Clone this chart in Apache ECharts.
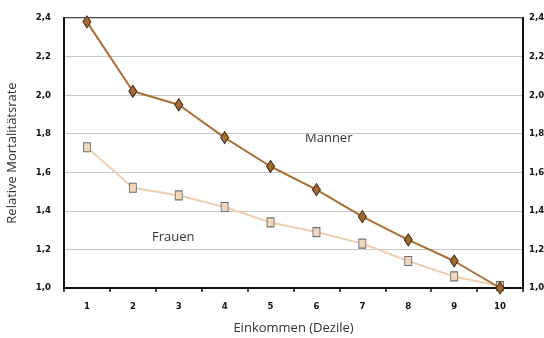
<!DOCTYPE html>
<html><head><meta charset="utf-8">
<script src="https://cdn.jsdelivr.net/npm/echarts@6/dist/echarts.min.js"></script>
<style>html,body{margin:0;padding:0;background:#fff}#c{width:544px;height:338px}</style>
</head><body><div id="c"></div>
<script>
var categories = ['1','2','3','4','5','6','7','8','9','10'];
var maenner = [2.38, 2.02, 1.95, 1.78, 1.63, 1.51, 1.37, 1.25, 1.14, 1.00];
var frauen  = [1.73, 1.52, 1.48, 1.42, 1.34, 1.29, 1.23, 1.14, 1.06, 1.01];
var yTicks = [1.0, 1.2, 1.4, 1.6, 1.8, 2.0, 2.2, 2.4];

var chart = echarts.init(document.getElementById('c'), null, {renderer:'canvas'});
var tickFont = {fontFamily:'"DejaVu Sans Condensed", "Liberation Sans Narrow", sans-serif', fontWeight:'bold', fontSize:9.5, color:'#111'};
function fmt(v){ return v.toFixed(1).replace('.', ','); }
var yCommon = {
  type:'value', min:1.0, max:2.4, interval:0.2,
  axisLine:{show:true, lineStyle:{color:'#111', width:2}},
  axisTick:{show:false},
  splitLine:{show:true, lineStyle:{color:'#c8c8c8', width:1}},
  axisLabel:Object.assign({formatter:fmt}, tickFont)
};
chart.setOption({
  animation:false,
  grid:{left:64, right:21, top:18, bottom:50, outerBoundsMode:'none', containLabel:false,
        show:true, borderColor:'#111', borderWidth:1.5, backgroundColor:'transparent'},
  xAxis:{
    type:'category', data:categories, boundaryGap:true,
    name:'Einkommen (Dezile)', nameLocation:'middle', nameGap:34,
    nameTextStyle:{fontFamily:'Open Sans', fontSize:13, color:'#333'},
    axisLine:{lineStyle:{color:'#111', width:2}},
    axisTick:{show:true, length:4, lineStyle:{color:'#111', width:1.5}},
    axisLabel:Object.assign({margin:14}, tickFont)
  },
  yAxis:[
    Object.assign({}, yCommon, {position:'left', name:'Relative Mortalitätsrate', nameLocation:'middle', nameGap:45,
      nameTextStyle:{fontFamily:'Open Sans', fontSize:13, color:'#333'},
      axisLabel:Object.assign({formatter:fmt, margin:13}, tickFont)}),
    Object.assign({}, yCommon, {position:'right', splitLine:{show:false},
      axisLabel:Object.assign({formatter:fmt, margin:6}, tickFont)})
  ],
  series:[
    {type:'line', name:'Frauen', data:frauen, yAxisIndex:0,
     lineStyle:{color:'#ebd0b0', width:2}, symbol:'rect', symbolSize:[7,9],
     itemStyle:{color:'#f0d6bd', borderColor:'#6f6f6f', borderWidth:1}, z:2},
    {type:'line', name:'Männer', data:maenner, yAxisIndex:0,
     lineStyle:{color:'#a86e34', width:2}, symbol:'diamond', symbolSize:[8,12],
     itemStyle:{color:'#a46a2f', borderColor:'#3a2a1a', borderWidth:1}, z:3}
  ],
  graphic:[
    {type:'text', left:305, top:132, style:{text:'Männer', fontFamily:'Open Sans', fontSize:13, fill:'#333'}},
    {type:'text', left:152, top:231, style:{text:'Frauen', fontFamily:'Open Sans', fontSize:13, fill:'#333'}}
  ]
});
</script></body></html>
